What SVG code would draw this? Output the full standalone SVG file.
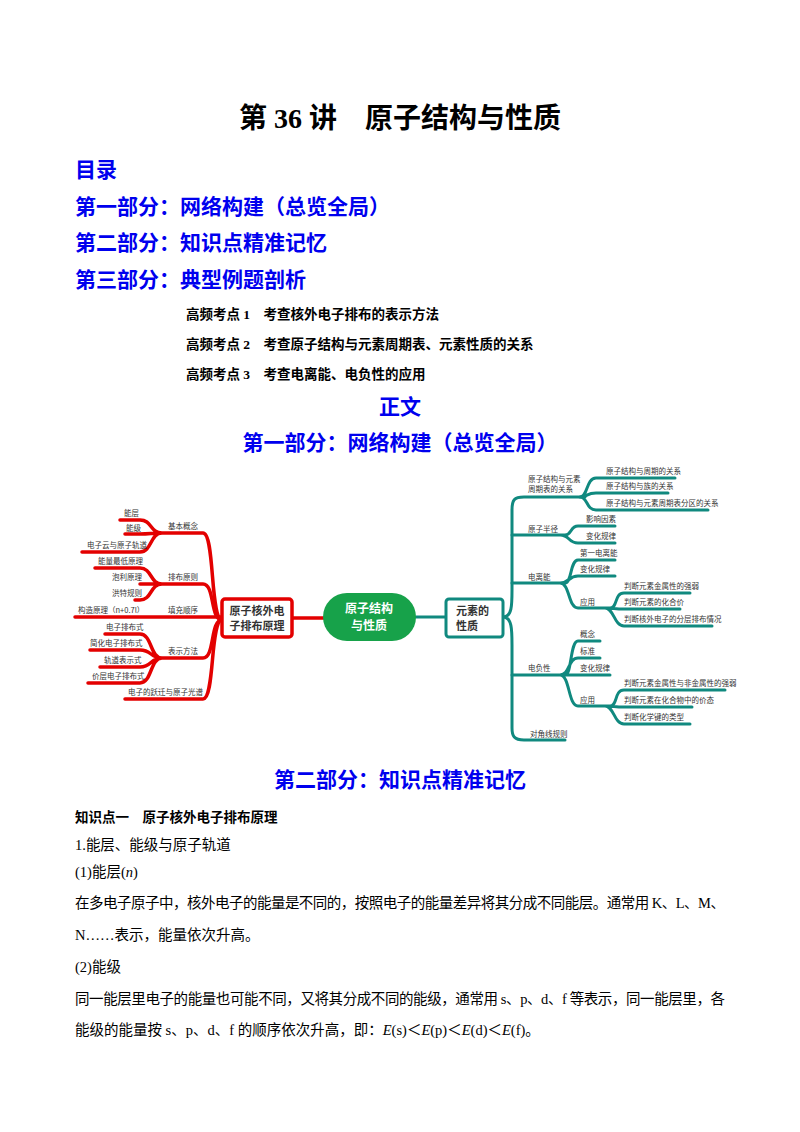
<svg xmlns="http://www.w3.org/2000/svg" width="800" height="1132" viewBox="0 0 800 1132">
<style>
text{font-family:"Liberation Serif","Noto Sans CJK SC",serif;}
.t{font-size:28px;font-weight:bold;text-anchor:middle}
.b{fill:#0000ee;font-size:21px;font-weight:bold}
.k{font-size:13.5px;font-weight:bold}
.p{font-size:14.5px}
.m{font-family:"Noto Sans CJK SC",sans-serif;font-size:7.5px;fill:#333}
.r{fill:none;stroke:#e30000;stroke-width:3.5;stroke-linecap:round}
.g{fill:none;stroke:#10897f;stroke-width:3;stroke-linecap:round}
.n{font-family:"Noto Sans CJK SC",sans-serif;font-size:11px;font-weight:bold;fill:#333}
</style>
<rect width="800" height="1132" fill="#fff"/>
<text class="t" x="400" y="128">第 36 讲　原子结构与性质</text>
<text class="b" x="75" y="177">目录</text>
<text class="b" x="75" y="214">第一部分：网络构建（总览全局）</text>
<text class="b" x="75" y="250">第二部分：知识点精准记忆</text>
<text class="b" x="75" y="287">第三部分：典型例题剖析</text>
<text class="k" x="186" y="319">高频考点 1　考查核外电子排布的表示方法</text>
<text class="k" x="186" y="349">高频考点 2　考查原子结构与元素周期表、元素性质的关系</text>
<text class="k" x="186" y="379">高频考点 3　考查电离能、电负性的应用</text>
<text class="b" x="400" y="414" text-anchor="middle">正文</text>
<text class="b" x="400" y="450" text-anchor="middle">第一部分：网络构建（总览全局）</text>

<g id="connectors">
<path class="r" d="M120,520 H140 C152,520 150,533 162,533 M125,534 H140 C150,534 152,533 162,533 M82,552 H140 C152,552 150,533 162,533 M160,533 H203 C215,533 210,620 222,620"/>
<path class="r" d="M95,568 H140 C152,568 150,584 162,584 M140,584 H162 M135,600 H140 C152,600 150,584 162,584 M160,584 H203 C215,584 210,620 222,620"/>
<path class="r" d="M75,617 H222"/>
<path class="r" d="M105,634 H140 C152,634 150,658 162,658 M90,650 H140 C152,650 150,658 162,658 M100,667 H140 C152,667 150,658 162,658 M88,683 H140 C152,683 150,658 162,658 M160,658 H203 C215,658 210,620 222,620"/>
<path class="r" d="M125,699 H203 C215,699 210,620 222,620"/>
<path class="r" d="M292,618 H324"/>
<path class="g" d="M416,617 H446 M503,617 C512,617 512,605 512,590 V510 C512,500 514,497 524,497 H585 M503,617 C512,617 512,630 512,645 V728 C512,736 514,740 524,740 H565"/>
<path class="g" d="M580,497 C588,497 586,478 596,478 H675 M580,497 C588,497 586,493 596,493 H668 M580,497 C588,497 586,510 596,510 H708"/>
<path class="g" d="M512,535 H565 C572,535 570,526 578,526 H615 M560,535 C570,535 568,543 578,543 H615"/>
<path class="g" d="M512,583 H565 C572,583 570,560 578,560 H615 M560,583 C570,583 568,576 578,576 H615 M560,583 C570,583 568,608 578,608 H610 C618,608 614,593 624,593 H690 M605,608 C614,608 614,609 624,609 H680 M605,608 C614,608 614,626 624,626 H712"/>
<path class="g" d="M512,675 H565 C572,675 570,641 578,641 H600 M560,675 C570,675 568,658 578,658 H600 M560,675 H610 M560,675 C570,675 568,706 578,706 H610 C618,706 614,690 624,690 H725 M605,706 C614,706 614,707 624,707 H692 M605,706 C614,706 614,724 624,724 H690"/>
</g>

<g id="left-labels">
<text class="m" x="124" y="516">能层</text>
<text class="m" x="126" y="531">能级</text>
<text class="m" x="87" y="548">电子云与原子轨道</text>
<text class="m" x="168" y="529">基本概念</text>
<text class="m" x="98" y="564">能量最低原理</text>
<text class="m" x="112" y="580">泡利原理</text>
<text class="m" x="112" y="596">洪特规则</text>
<text class="m" x="168" y="580">排布原则</text>
<text class="m" x="78" y="613">构造原理（n+0.7l）</text>
<text class="m" x="168" y="613">填充顺序</text>
<text class="m" x="106" y="630">电子排布式</text>
<text class="m" x="90" y="646">简化电子排布式</text>
<text class="m" x="104" y="663">轨道表示式</text>
<text class="m" x="92" y="679">价层电子排布式</text>
<text class="m" x="168" y="654">表示方法</text>
<text class="m" x="128" y="695">电子的跃迁与原子光谱</text>
</g>
<g id="node-left">
<rect x="222" y="599" width="70" height="38" fill="#fff" stroke="#e30000" stroke-width="3.5" rx="3"/>
<text class="n" x="257" y="615" text-anchor="middle">原子核外电</text>
<text class="n" x="257" y="630" text-anchor="middle">子排布原理</text>
</g>
<g id="node-center">
<rect x="323" y="593" width="93" height="48" rx="24" fill="#17a24a"/>
<text class="n" x="369" y="613" text-anchor="middle" fill="#fff" style="fill:#fff;font-size:12px">原子结构</text>
<text class="n" x="369" y="630" text-anchor="middle" style="fill:#fff;font-size:12px">与性质</text>
</g>
<g id="node-right">
<rect x="446" y="599" width="57" height="38" fill="#fff" stroke="#10897f" stroke-width="3" rx="3"/>
<text class="n" x="456" y="615">元素的</text>
<text class="n" x="456" y="630">性质</text>
</g>
<g id="right-labels">
<text class="m" x="528" y="482">原子结构与元素</text>
<text class="m" x="528" y="492">周期表的关系</text>
<text class="m" x="606" y="474">原子结构与周期的关系</text>
<text class="m" x="606" y="489">原子结构与族的关系</text>
<text class="m" x="606" y="506">原子结构与元素周期表分区的关系</text>
<text class="m" x="528" y="532">原子半径</text>
<text class="m" x="586" y="522">影响因素</text>
<text class="m" x="586" y="539">变化规律</text>
<text class="m" x="528" y="580">电离能</text>
<text class="m" x="580" y="556">第一电离能</text>
<text class="m" x="580" y="572">变化规律</text>
<text class="m" x="580" y="605">应用</text>
<text class="m" x="624" y="589">判断元素金属性的强弱</text>
<text class="m" x="624" y="605">判断元素的化合价</text>
<text class="m" x="624" y="622">判断核外电子的分层排布情况</text>
<text class="m" x="528" y="671">电负性</text>
<text class="m" x="580" y="637">概念</text>
<text class="m" x="580" y="654">标准</text>
<text class="m" x="580" y="671">变化规律</text>
<text class="m" x="580" y="703">应用</text>
<text class="m" x="624" y="686">判断元素金属性与非金属性的强弱</text>
<text class="m" x="624" y="703">判断元素在化合物中的价态</text>
<text class="m" x="624" y="720">判断化学键的类型</text>
<text class="m" x="530" y="737">对角线规则</text>
</g>

<text class="b" x="400" y="787" text-anchor="middle">第二部分：知识点精准记忆</text>
<text class="k" x="75" y="822">知识点一　原子核外电子排布原理</text>
<text class="p" x="75" y="850">1.能层、能级与原子轨道</text>
<text class="p" x="75" y="877">(1)能层(<tspan font-style="italic">n</tspan>)</text>
<text class="p" x="75" y="908" textLength="650">在多电子原子中，核外电子的能量是不同的，按照电子的能量差异将其分成不同能层。通常用 K、L、M、</text>
<text class="p" x="75" y="940">N……表示，能量依次升高。</text>
<text class="p" x="75" y="972">(2)能级</text>
<text class="p" x="75" y="1004" textLength="650">同一能层里电子的能量也可能不同，又将其分成不同的能级，通常用 s、p、d、f 等表示，同一能层里，各</text>
<text class="p" x="75" y="1035">能级的能量按 s、p、d、f 的顺序依次升高，即：<tspan font-style="italic">E</tspan>(s)＜<tspan font-style="italic">E</tspan>(p)＜<tspan font-style="italic">E</tspan>(d)＜<tspan font-style="italic">E</tspan>(f)。</text>
</svg>
